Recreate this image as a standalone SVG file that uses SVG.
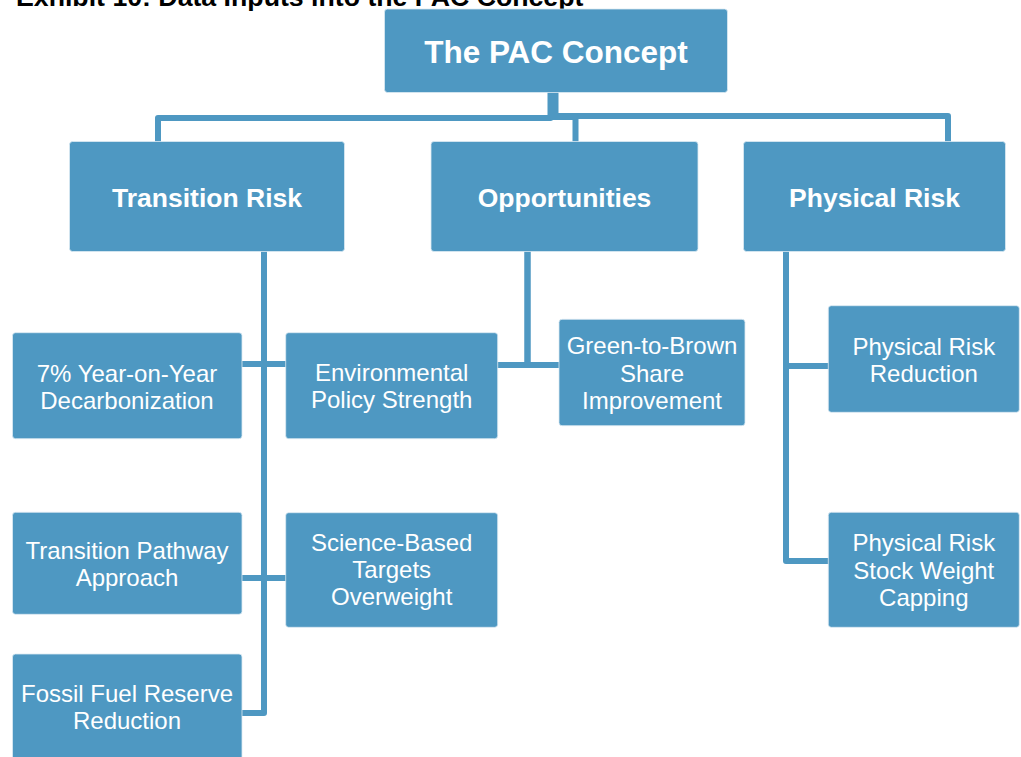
<svg xmlns="http://www.w3.org/2000/svg" width="1021" height="757" viewBox="0 0 1021 757">
<style>
.box{fill:#4E98C2;stroke:#DCEAF3;stroke-width:0.8}
.t1{font-family:"Liberation Sans",Arial,sans-serif;font-weight:bold;font-size:31.5px;fill:#fff;text-anchor:middle}
.t2{font-family:"Liberation Sans",Arial,sans-serif;font-weight:bold;font-size:26.5px;fill:#fff;text-anchor:middle}
.t3{font-family:"Liberation Sans",Arial,sans-serif;font-size:24px;fill:#fff;text-anchor:middle}
.title{font-family:"Liberation Sans",Arial,sans-serif;font-weight:bold;font-size:26.7px;fill:#000}
.c{fill:none;stroke:#4E98C2;stroke-width:6;stroke-linejoin:round}
</style>
<rect width="1021" height="757" fill="#fff"/>
<text class="title" x="16" y="6">Exhibit 10: Data Inputs into the PAC Concept</text>
<g id="connectors">
<path class="c" d="M550.5,92 V118 H158 V143"/>
<path class="c" d="M555.5,92 V116 H948 V143"/>
<path class="c" d="M553,92 V117 H575.5 V143"/>
<path class="c" d="M527.5,251 V365 H497"/>
<path class="c" d="M527.5,251 V365 H560"/>
<path class="c" d="M264,251 V364 H242"/>
<path class="c" d="M264,251 V364 H286"/>
<path class="c" d="M264,251 V578 H242"/>
<path class="c" d="M264,251 V578 H286"/>
<path class="c" d="M264,251 V713 H242"/>
<path class="c" d="M786,251 V366 H829"/>
<path class="c" d="M786,251 V561 H829"/>
</g>
<g id="pac">
<rect class="box" x="384.5" y="9" width="343" height="83.5" rx="3"/>
<text class="t1" x="556" y="63.3">The PAC Concept</text>
</g>
<g id="transition-risk">
<rect class="box" x="69.5" y="141.5" width="275" height="110" rx="3"/>
<text class="t2" x="207" y="206.7">Transition Risk</text>
</g>
<g id="opportunities">
<rect class="box" x="431" y="141.5" width="267" height="110" rx="3"/>
<text class="t2" x="564.5" y="206.7">Opportunities</text>
</g>
<g id="physical-risk">
<rect class="box" x="743.5" y="141.5" width="262" height="110" rx="3"/>
<text class="t2" x="874.5" y="206.7">Physical Risk</text>
</g>
<g id="decarbonization">
<rect class="box" x="12.5" y="332.7" width="229.5" height="106" rx="3"/>
<text class="t3" x="127" y="381.5">7% Year-on-Year</text>
<text class="t3" x="127" y="408.7">Decarbonization</text>
</g>
<g id="environmental-policy">
<rect class="box" x="285.7" y="332.7" width="212" height="106" rx="3"/>
<text class="t3" x="391.7" y="381">Environmental</text>
<text class="t3" x="391.7" y="408.3">Policy Strength</text>
</g>
<g id="green-to-brown">
<rect class="box" x="559" y="319.3" width="186" height="106.4" rx="3"/>
<text class="t3" x="652" y="354">Green-to-Brown</text>
<text class="t3" x="652" y="381.5">Share</text>
<text class="t3" x="652" y="408.5">Improvement</text>
</g>
<g id="transition-pathway">
<rect class="box" x="12.5" y="512.3" width="229.5" height="102" rx="3"/>
<text class="t3" x="127" y="558.5">Transition Pathway</text>
<text class="t3" x="127" y="585.5">Approach</text>
</g>
<g id="science-based">
<rect class="box" x="285.7" y="512.7" width="212" height="114.6" rx="3"/>
<text class="t3" x="391.7" y="550.7">Science-Based</text>
<text class="t3" x="391.7" y="577.8">Targets</text>
<text class="t3" x="391.7" y="605">Overweight</text>
</g>
<g id="fossil-fuel">
<rect class="box" x="12.5" y="654" width="229.5" height="110" rx="3"/>
<text class="t3" x="127" y="701.5">Fossil Fuel Reserve</text>
<text class="t3" x="127" y="729">Reduction</text>
</g>
<g id="physical-risk-reduction">
<rect class="box" x="828.3" y="305.7" width="191" height="106.6" rx="3"/>
<text class="t3" x="923.8" y="354.5">Physical Risk</text>
<text class="t3" x="923.8" y="382">Reduction</text>
</g>
<g id="stock-weight-capping">
<rect class="box" x="828.3" y="512.3" width="191" height="115" rx="3"/>
<text class="t3" x="923.8" y="550.7">Physical Risk</text>
<text class="t3" x="923.8" y="578.5">Stock Weight</text>
<text class="t3" x="923.8" y="606">Capping</text>
</g>
</svg>
